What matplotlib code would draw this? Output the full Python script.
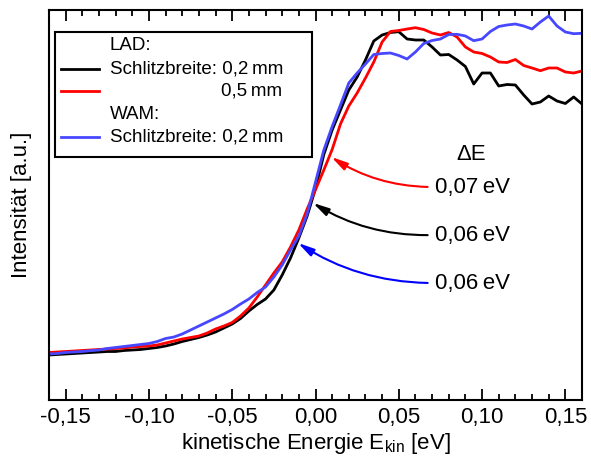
import numpy as np
import matplotlib
matplotlib.use("Agg")
import matplotlib.pyplot as plt
from matplotlib.ticker import MultipleLocator, FuncFormatter
from matplotlib.patches import Rectangle
from matplotlib.lines import Line2D

plt.rcParams['font.family'] = ['Liberation Sans', 'DejaVu Sans']
plt.rcParams['mathtext.fontset'] = 'custom'
plt.rcParams['mathtext.rm'] = 'Liberation Sans'

# kinetic energy grid (eV)
energy = np.round(np.arange(-0.160, 0.1601, 0.005), 3)

# intensities (a.u.)
lad_02 = [45, 45.5, 46, 46.5, 47, 47.5, 48, 48.5, 48.5, 49.5, 50, 50.5, 51.5,
          52.5, 54, 56, 58.5, 60.5, 62.5, 65, 68, 72, 76,
          81.5, 89, 95.5, 101, 110, 125, 142, 162, 184, 211.5,
          245.5, 270, 290, 310, 323, 340, 359, 365, 367.5, 368.3,
          361, 360, 360, 353, 345, 345.5, 340, 333.5, 316, 327,
          327, 314, 315.5, 315, 305, 296, 298, 304, 299, 296.5, 303, 296]
lad_05 = [47.5, 48, 48.5, 49, 49.5, 50, 50.5, 51, 51.5, 52, 53, 53.5, 54,
          55, 57, 59, 61, 62.5, 64, 67, 71, 74, 77.5,
          84, 92, 103, 115, 127, 138, 153, 170, 191, 210.3,
          230, 250.5, 276, 294, 307, 322, 338, 358, 368.5, 369.5,
          371, 372.3, 370.5, 367, 365, 367.5, 363, 353, 348, 346.5,
          343, 338, 337.5, 340.5, 334.5, 332, 329.3, 332, 332, 328, 327, 329]
wam_02 = [46, 46.5, 47.5, 48, 48.5, 49.3, 50, 51.5, 52.5, 53.5, 54.5, 55.5, 56.5,
          58.5, 61.5, 63, 66, 70, 74, 78, 82, 86, 90.5,
          96, 101, 107.5, 113, 123, 135, 150, 164, 186, 218,
          250, 273.5, 295, 317, 327, 336, 345.5, 346.5, 347, 344.5,
          341, 348, 356.5, 359.5, 361, 365.5, 365.7, 364, 359.3, 361,
          368.5, 373.5, 375, 376, 374, 371, 378, 384, 374, 368, 366.3, 366.7]

xticks = [-0.15, -0.10, -0.05, 0.00, 0.05, 0.10, 0.15]

# FWHM annotations: (tip energy, tip intensity, label, colour)
ann_tip_x = [0.0095, -0.0015, -0.0105]
ann_tip_y = [243, 197, 157]
ann_labels = ["0,07\u2009eV", "0,06\u2009eV", "0,06\u2009eV"]
ann_text_y = [213, 165, 117]
ann_colors = ["#ff0000", "#000000", "#0000ff"]

fig = plt.figure(figsize=(5.91, 4.61), dpi=100)
ax = fig.add_axes([49/591, 61/461, 533/591, 390/461])

ax.plot(energy, lad_02, color="#000000", lw=2.0)
ax.plot(energy, lad_05, color="#ff0000", lw=2.0)
ax.plot(energy, wam_02, color="#4747ff", lw=2.0)

ax.set_xlim(-0.16, 0.16)
ax.set_ylim(0, 390)
ax.set_xticks(xticks)
ax.xaxis.set_minor_locator(MultipleLocator(0.01))
ax.xaxis.set_major_formatter(FuncFormatter(lambda v, p: f"{v:.2f}".replace('.', ',').replace('\u2212', '-')))
ax.set_yticks([])
ax.tick_params(axis='x', which='both', direction='in', top=True, bottom=True, width=1.3)
ax.tick_params(axis='x', which='major', length=8, labelsize=16, pad=5)
ax.tick_params(axis='x', which='minor', length=4.5)
for s in ax.spines.values():
    s.set_linewidth(1.5)

ax.set_xlabel("kinetische Energie E$_\\mathregular{kin}$ [eV]", fontsize=16, labelpad=2)
ax.set_ylabel("Intensität [a.u.]", fontsize=16, labelpad=12)

# annotations
for tx, ty, lab, tyy, col in zip(ann_tip_x, ann_tip_y, ann_labels, ann_text_y, ann_colors):
    ax.annotate(lab, xy=(tx, ty), xytext=(0.0715, tyy), fontsize=16,
                ha='left', va='center', color='black',
                arrowprops=dict(arrowstyle="-|>,head_length=0.6,head_width=0.15",
                                color=col, lw=1.5, shrinkA=3, shrinkB=0,
                                relpos=(0, 0.5),
                                connectionstyle="arc3,rad=-0.15"))
ax.text(0.0935, 245, "\u0394E", fontsize=16, ha='center', va='center')

# legend (drawn manually)
ax.add_patch(Rectangle((0.011, 0.623), 0.482, 0.321, transform=ax.transAxes,
                       fill=True, facecolor='white', edgecolor='black', lw=1.5, zorder=5))
for yy, col in [(0.849, "#000000"), (0.792, "#ff0000"), (0.674, "#4747ff")]:
    ax.add_line(Line2D([0.0225, 0.094], [yy, yy], transform=ax.transAxes,
                       color=col, lw=2.0, zorder=6))
lfs = 13.5
ax.text(0.114, 0.910, "LAD:", transform=ax.transAxes, fontsize=lfs, va='center', ha='left', zorder=6)
ax.text(0.114, 0.849, "Schlitzbreite: 0,2\u2009mm", transform=ax.transAxes, fontsize=lfs, va='center', ha='left', zorder=6)
ax.text(0.437, 0.792, "0,5\u2009mm", transform=ax.transAxes, fontsize=lfs, va='center', ha='right', zorder=6)
ax.text(0.114, 0.731, "WAM:", transform=ax.transAxes, fontsize=lfs, va='center', ha='left', zorder=6)
ax.text(0.114, 0.674, "Schlitzbreite: 0,2\u2009mm", transform=ax.transAxes, fontsize=lfs, va='center', ha='left', zorder=6)

fig.savefig("out.png", dpi=100)
